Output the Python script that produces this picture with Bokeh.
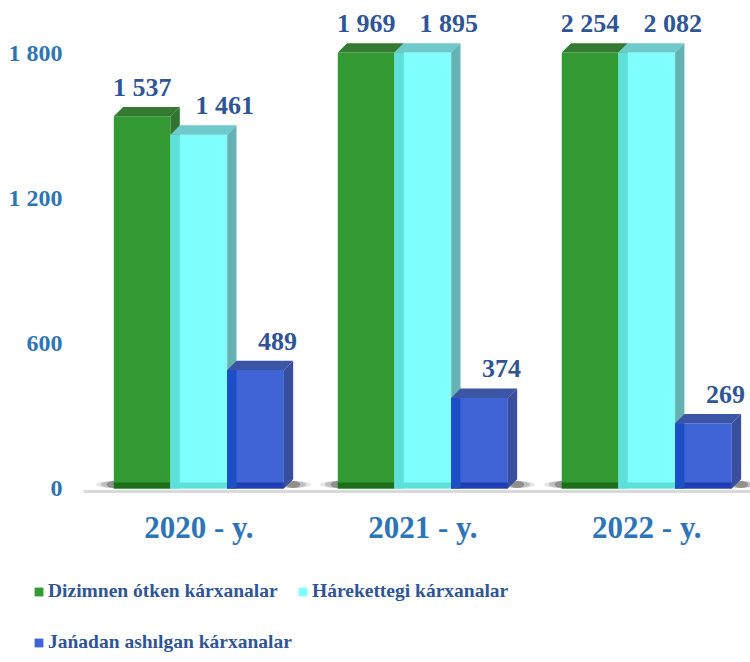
from bokeh.plotting import figure
from bokeh.layouts import column
from bokeh.models import FixedTicker, Legend, LegendItem, ColumnDataSource, Range1d
from bokeh.core.properties import value
from bokeh.embed import file_html
from bokeh.resources import INLINE

# ---------------- data ----------------
years = ["2020 - y.", "2021 - y.", "2022 - y."]
series_names = ["Dizimnen ótken kárxanalar", "Hárekettegi kárxanalar", "Jańadan ashılgan kárxanalar"]
registered = [1537, 1969, 2254]
active = [1461, 1895, 2082]
newly_opened = [489, 374, 269]
y_ticks = [0, 600, 1200, 1800]
y_tick_labels = ["0", "600", "1 200", "1 800"]
Y_MAX = 1800  # axis maximum; taller bars are cut off here

series_values = [registered, active, newly_opened]

# ---------------- style ----------------
FONT = "Liberation Serif"
AXIS_BLUE = "#2E75B6"
LABEL_BLUE = "#2F5597"
front_colors = ["#339933", "#80FFFF", "#4064D6"]
top_colors = ["#357A32", "#6FCBCB", "#3D55A5"]
side_colors = ["#2F742F", "#66B2B2", "#3A4EA0"]
band_colors = ["#1B6F1B", "#5CE0D8", "#1E3DB2"]
strip_colors = [None, "#5CE0D8", "#1A4FC6"]
label_dx = [0, 26, 22]  # px nudge of value labels per series

PX_X = 224.0          # px per category
PX_Y = 0.2422         # px per unit
BAR_W = 56.7 / PX_X
DX = 9.3 / PX_X
DY = 9.3 / PX_Y
BAND = 6 / PX_Y

p = figure(width=750, height=555, output_backend="svg", toolbar_location=None,
           x_range=Range1d(-0.515, 2.463), y_range=Range1d(-12.4, 1973.6),
           min_border_left=83, min_border_right=0, min_border_top=10, min_border_bottom=64,
           frame_align=False)
p.outline_line_color = None
p.xgrid.visible = False
p.ygrid.visible = False
p.background_fill_color = "white"
p.border_fill_color = "white"

def fmt(v):
    return f"{v:,}".replace(",", " ")

# shadows at the foot of each group
for i in range(len(years)):
    gl = i - 1.5 * BAR_W
    gr = i + 1.5 * BAR_W + DX
    for w, a in [(36, 0.10), (26, 0.16), (14, 0.25)]:
        p.ellipse(x=[gl, gr], y=[4 / PX_Y] * 2, width=w / PX_X, height=7 / PX_Y,
                  fill_color="black", fill_alpha=a, line_color=None)

for j, vals in enumerate(series_values):
    centers = [i + (j - 1) * BAR_W for i in range(len(vals))]
    lefts = [c - BAR_W / 2 for c in centers]
    rights = [c + BAR_W / 2 for c in centers]
    tops = [min(v, Y_MAX) for v in vals]
    src = ColumnDataSource(dict(left=lefts, right=rights, top=tops, bottom=[0] * len(vals)))
    p.quad(left="left", right="right", top="top", bottom="bottom", source=src,
           fill_color=front_colors[j], line_color=None)
    p.quad(left=lefts, right=rights, top=[BAND] * len(vals), bottom=[0] * len(vals),
           fill_color=band_colors[j], line_color=None)
    if strip_colors[j]:
        p.quad(left=lefts, right=[l + DX for l in lefts], top=tops, bottom=[0] * len(vals),
               fill_color=strip_colors[j], line_color=None)
    # top face
    p.patches(xs=[[l, l + DX, rr + DX, rr] for l, rr in zip(lefts, rights)],
              ys=[[t, t + DY, t + DY, t] for t in tops],
              fill_color=top_colors[j], line_color=None)
    # side face
    p.patches(xs=[[rr, rr + DX, rr + DX, rr] for rr in rights],
              ys=[[0, DY, t + DY, t] for t in tops],
              fill_color=side_colors[j], line_color=None)
    # value labels
    p.text(x=centers, y=tops, text=[fmt(v) for v in vals], x_offset=label_dx[j], y_offset=-29,
           text_align="center", text_baseline="alphabetic",
           text_font=value(FONT), text_font_style="bold", text_font_size="26px",
           text_color=LABEL_BLUE)

# axes
p.yaxis.ticker = FixedTicker(ticks=y_ticks)
p.yaxis.major_label_overrides = {t: l for t, l in zip(y_ticks, y_tick_labels)}
p.yaxis.axis_line_color = None
p.yaxis.major_tick_line_color = None
p.yaxis.minor_tick_line_color = None
p.yaxis.major_label_standoff = 15
p.yaxis.major_label_text_font = FONT
p.yaxis.major_label_text_font_style = "bold"
p.yaxis.major_label_text_font_size = "24px"
p.yaxis.major_label_text_color = AXIS_BLUE

p.xaxis.ticker = FixedTicker(ticks=list(range(len(years))))
p.xaxis.major_label_overrides = {i: y for i, y in enumerate(years)}
p.xaxis.axis_line_color = "#D9D9D9"
p.xaxis.axis_line_width = 3
p.xaxis.major_tick_line_color = None
p.xaxis.minor_tick_line_color = None
p.xaxis.major_label_standoff = 12
p.xaxis.major_label_text_font = FONT
p.xaxis.major_label_text_font_style = "bold"
p.xaxis.major_label_text_font_size = "31px"
p.xaxis.major_label_text_color = AXIS_BLUE

# ---------------- legend (own strip below the chart) ----------------
lg = figure(width=750, height=107, output_backend="svg", toolbar_location=None,
            x_range=Range1d(0, 1), y_range=Range1d(0, 1), min_border=0, frame_align=False)
lg.axis.visible = False
lg.xgrid.visible = False
lg.ygrid.visible = False
lg.outline_line_color = None
# swatch renderers kept outside the visible range; they only feed the legend glyphs
swatches = [lg.quad(left=[2], right=[3], top=[3], bottom=[2], fill_color=front_colors[j], line_color=None)
            for j in range(3)]

legend_style = dict(glyph_width=11, glyph_height=11, label_standoff=4, spacing=27,
                    padding=0, margin=0, border_line_color=None, background_fill_alpha=0,
                    label_text_font=FONT, label_text_font_style="bold", label_height=24,
                    label_text_font_size="19.5px", label_text_color=LABEL_BLUE)
legend_a = Legend(items=[LegendItem(label=series_names[j], renderers=[swatches[j]]) for j in (0, 2)],
                  location=(33, 8), orientation="vertical", **legend_style)
legend_b = Legend(items=[LegendItem(label=series_names[1], renderers=[swatches[1]])],
                  location=(297, 59), orientation="vertical", **legend_style)
lg.add_layout(legend_a)
lg.add_layout(legend_b)

layout = column(p, lg, spacing=0)
open("out.html", "w").write(file_html(layout, INLINE))
